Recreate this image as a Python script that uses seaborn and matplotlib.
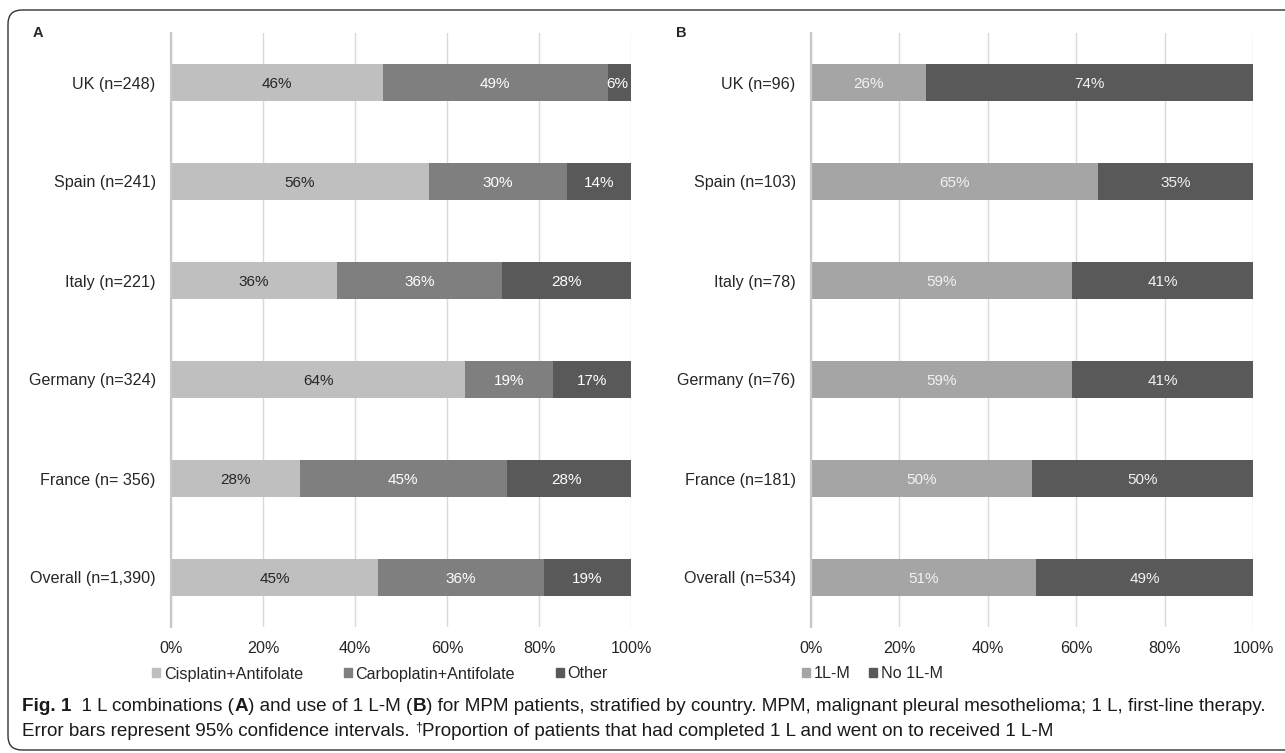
import numpy as np
import pandas as pd
import matplotlib.pyplot as plt
import seaborn as sns
from matplotlib.patches import Patch, FancyBboxPatch
from matplotlib.transforms import IdentityTransform
from matplotlib.ticker import PercentFormatter

sns.set_theme(style='white')
plt.rcParams['font.family'] = ['Liberation Sans', 'DejaVu Sans']

# panel A: 1L combinations
countries_a = ['UK (n=248)', 'Spain (n=241)', 'Italy (n=221)', 'Germany (n=324)',
               'France (n= 356)', 'Overall (n=1,390)']
cisplatin = [46, 56, 36, 64, 28, 45]
carboplatin = [49, 30, 36, 19, 45, 36]
other = [6, 14, 28, 17, 28, 19]
names_a = ['Cisplatin+Antifolate', 'Carboplatin+Antifolate', 'Other']

# panel B: use of 1L-M
countries_b = ['UK (n=96)', 'Spain (n=103)', 'Italy (n=78)', 'Germany (n=76)',
               'France (n=181)', 'Overall (n=534)']
first_m = [26, 65, 59, 59, 50, 51]
no_first_m = [74, 35, 41, 41, 50, 49]
names_b = ['1L-M', 'No 1L-M']

W, H = 1285, 753
fs = 11.6
fig = plt.figure(figsize=(W / 100, H / 100), dpi=100)


def stacked(ax, labels, series, names, colors, txtcolors):
    df = pd.DataFrame(dict(zip(names, series)), index=labels)
    cum = df.cumsum(axis=1)
    for name, col in reversed(list(zip(names, colors))):
        sns.barplot(x=cum[name].values, y=labels, color=col, width=0.38,
                    saturation=1, edgecolor='none', orient='h', ax=ax)
    for i, lab in enumerate(labels):
        for name, tc in zip(names, txtcolors):
            v = df.loc[lab, name]
            c = cum.loc[lab, name]
            ax.text(min(c - v / 2, 100 - v / 2), i + 0.02, f'{v}%', ha='center', va='center',
                    fontsize=11, color=tc)
    ax.set_xlim(0, 100)
    ax.set_xticks(range(0, 101, 20))
    ax.xaxis.set_major_formatter(PercentFormatter(decimals=0))
    ax.grid(axis='x', color='#D9D9D9', lw=1)
    ax.set_axisbelow(True)
    for s in ['top', 'right', 'bottom']:
        ax.spines[s].set_visible(False)
    ax.spines['left'].set_color('#C8C8C8')
    ax.spines['left'].set_linewidth(1.6)
    ax.tick_params(axis='y', length=0, pad=11, labelsize=fs, labelcolor='#262626')
    ax.tick_params(axis='x', length=0, pad=10, labelsize=fs, labelcolor='#262626')
    ax.set_xlabel('')
    ax.set_ylabel('')


bottom = 1 - 627 / H
height = (627 - 33) / H
ax_a = fig.add_axes([171 / W, bottom, 460 / W, height])
ax_b = fig.add_axes([811 / W, bottom, 442 / W, height])

cols_a = ['#BFBFBF', '#7F7F7F', '#595959']
stacked(ax_a, countries_a, [cisplatin, carboplatin, other], names_a, cols_a,
        ['#262626', 'white', 'white'])
cols_b = ['#A5A5A5', '#595959']
stacked(ax_b, countries_b, [first_m, no_first_m], names_b, cols_b,
        ['#F2F2F2', '#F2F2F2'])

fig.text(33 / W, 1 - 33 / H, 'A', fontsize=10.5, fontweight='bold', va='center')
fig.text(676 / W, 1 - 33 / H, 'B', fontsize=10.5, fontweight='bold', va='center')

fig.legend([Patch(color=c) for c in cols_a], names_a, loc='center left',
           bbox_to_anchor=(144 / W, 1 - 674 / H), ncol=3, frameon=False,
           handlelength=0.5, handleheight=0.5, handletextpad=0.22,
           columnspacing=2.55, fontsize=fs, borderpad=0)
fig.legend([Patch(color=c) for c in cols_b], names_b, loc='center left',
           bbox_to_anchor=(794 / W, 1 - 674 / H), ncol=2, frameon=False,
           handlelength=0.5, handleheight=0.5, handletextpad=0.25,
           columnspacing=1.1, fontsize=fs, borderpad=0)

cap_font = ['Liberation Sans Narrow', 'Liberation Sans', 'DejaVu Sans']
renderer = fig.canvas.get_renderer()


def run_text(x, y, pieces):
    for s, weight, dy, sz in pieces:
        t = fig.text(x, H - y + dy, s, transform=IdentityTransform(), fontsize=sz,
                     fontweight=weight, va='baseline', family=cap_font, color='#1a1a1a')
        x = t.get_window_extent(renderer).x1


cs = 13.55
run_text(22, 711, [('Fig. 1', 'bold', 0, cs),
                   ('  1 L combinations (', 'normal', 0, cs), ('A', 'bold', 0, cs),
                   (') and use of 1 L-M (', 'normal', 0, cs), ('B', 'bold', 0, cs),
                   (') for MPM patients, stratified by country. MPM, malignant pleural '
                    'mesothelioma; 1 L, first-line therapy.', 'normal', 0, cs)])
run_text(22, 736, [('Error bars represent 95% confidence intervals. ', 'normal', 0, cs),
                   ('\u2020', 'normal', 6, cs * 0.65),
                   ('Proportion of patients that had completed 1 L and went on to received 1 L-M',
                    'normal', 0, cs)])

border = FancyBboxPatch((8, 3), 1320, 740, boxstyle='round,pad=0,rounding_size=14',
                        transform=IdentityTransform(), fill=False, ec='#333333', lw=1)
fig.add_artist(border)

fig.savefig('out.png', dpi=100)
